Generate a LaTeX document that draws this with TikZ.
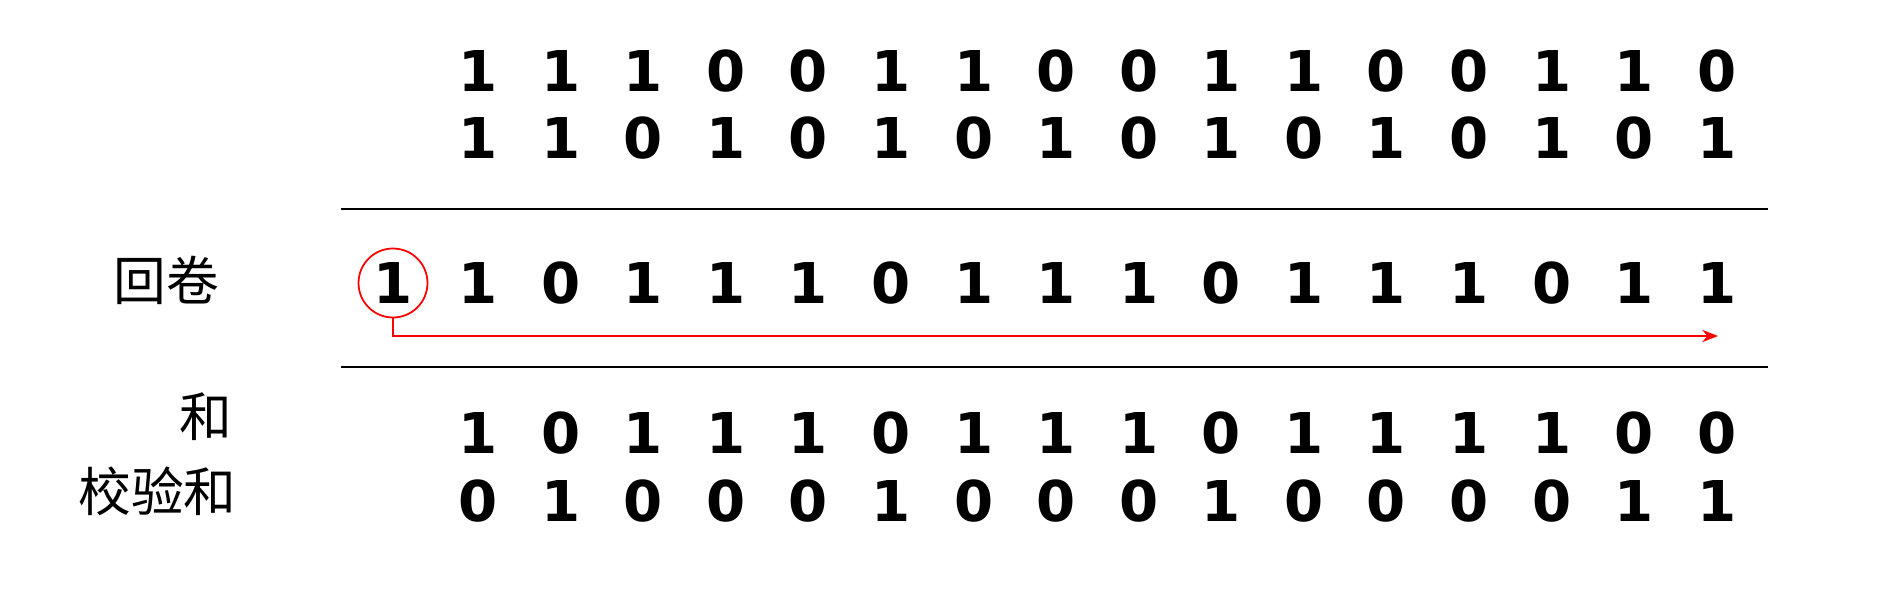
\documentclass[tikz,border=0pt]{standalone}
\usepackage{fontspec}
\newfontfamily\bitfont{DejaVu Sans}
\newfontfamily\cjk{Noto Sans CJK SC}
\usetikzlibrary{arrows.meta}
\begin{document}
\begin{tikzpicture}[x=0.02cm,y=-0.02cm]
  \tikzset{bit/.style={inner sep=0pt,font=\bitfont\bfseries\fontsize{32}{32}\selectfont},
           label cn/.style={inner sep=0pt,font=\cjk\fontsize{30}{30}\selectfont},
           rule line/.style={line width=1.7pt},
           wrap line/.style={red,line width=1pt}}
  \useasboundingbox (0,0) rectangle (1885,608);
  % the two numbers
  \foreach \d [count=\i] in {1,1,1,0,0,1,1,0,0,1,1,0,0,1,1,0}
    \node[bit] (a\i) at ({478.3+82.56*(\i-1)},71) {\d};
  \foreach \d [count=\i] in {1,1,0,1,0,1,0,1,0,1,0,1,0,1,0,1}
    \node[bit] (b\i) at ({478.3+82.56*(\i-1)},138) {\d};
  \draw[rule line] (341,209) -- (1768,209);
  % wraparound
  \node[label cn] (wrap) at (166,280) {回卷};
  \node[bit,circle,draw=red,line width=1pt,minimum size=1.38cm] (w0) at (393,283) {1};
  \foreach \d [count=\i] in {1,0,1,1,1,0,1,1,1,0,1,1,1,0,1,1}
    \node[bit] (w\i) at ({478.3+82.56*(\i-1)},283) {\d};
  \coordinate (tip) at (1718,336);
  \draw[wrap line,-{Stealth[length=9pt,width=7pt]}] (w0.south) |- (tip);
  \draw[rule line] (341,367) -- (1768,367);
  % sum and checksum
  \node[label cn,anchor=east] (sum) at (233,417) {和};
  \foreach \d [count=\i] in {1,0,1,1,1,0,1,1,1,0,1,1,1,1,0,0}
    \node[bit] (s\i) at ({478.3+82.56*(\i-1)},433) {\d};
  \node[label cn,anchor=east] (chk) at (237,491) {校验和};
  \foreach \d [count=\i] in {0,1,0,0,0,1,0,0,0,1,0,0,0,0,1,1}
    \node[bit] (c\i) at ({478.3+82.56*(\i-1)},501) {\d};
\end{tikzpicture}
\end{document}
